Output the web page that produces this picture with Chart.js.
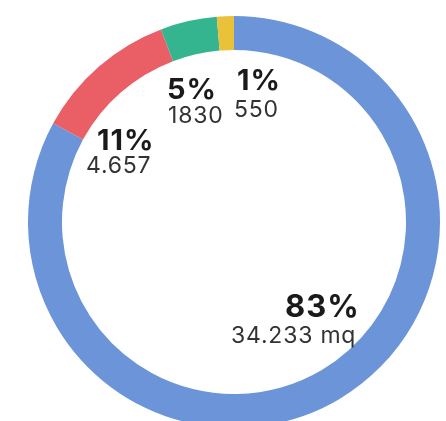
<!DOCTYPE html>
<html>
<head>
<meta charset="utf-8">
<script src="https://cdn.jsdelivr.net/npm/chart.js@4"></script>
<style>
  html, body { margin: 0; padding: 0; background: #fff; }
  body { width: 446px; height: 421px; overflow: hidden; position: relative; }
  #wrap { position: absolute; left: 28px; top: 16px; width: 412px; height: 412px; }
</style>
</head>
<body>
<div id="wrap"><canvas id="chart"></canvas></div>
<script>
// values in mq
const categories = ["A", "B", "C", "D"];
const values = [34233, 4657, 1830, 550];
const percentLabels = ["83%", "11%", "5%", "1%"];
const valueLabels = ["34.233 mq", "4.657", "1830", "550"];
const colors = ["#6b95d8", "#ea5f66", "#35b58f", "#e9c23a"];

// label offsets from the doughnut centre: [percent x, y, value x, y]
const labelOffsets = [
  [51, 95, -3, 121],
  [-137, -72, -148, -49],
  [-67, -123, -66, -99],
  [3, -132, 0, -105]
];

const labelPlugin = {
  id: "sliceLabels",
  afterDraw(chart) {
    const ctx = chart.ctx;
    const arc = chart.getDatasetMeta(0).data[0];
    const cx = arc.x, cy = arc.y;
    ctx.save();
    ctx.textAlign = "left";
    ctx.textBaseline = "alphabetic";
    percentLabels.forEach((p, i) => {
      const o = labelOffsets[i];
      ctx.fillStyle = "#1a1a1a";
      ctx.letterSpacing = "1px";
      ctx.font = "bold " + (i === 0 ? 31 : 29) + "px Inter, 'Noto Sans', sans-serif";
      ctx.fillText(p, cx + o[0], cy + o[1]);
      ctx.fillStyle = "#333";
      ctx.letterSpacing = "0.8px";
      ctx.font = "23px Inter, 'Noto Sans', sans-serif";
      ctx.fillText(valueLabels[i], cx + o[2], cy + o[3]);
    });
    ctx.restore();
  }
};

new Chart(document.getElementById("chart").getContext("2d"), {
  type: "doughnut",
  data: {
    labels: categories,
    datasets: [{
      data: values,
      backgroundColor: colors,
      borderWidth: 0
    }]
  },
  options: {
    responsive: true,
    maintainAspectRatio: false,
    animation: false,
    cutout: "83.5%",
    layout: { padding: 0 },
    plugins: {
      legend: { display: false },
      tooltip: { enabled: false }
    }
  },
  plugins: [labelPlugin]
});
</script>
</body>
</html>
